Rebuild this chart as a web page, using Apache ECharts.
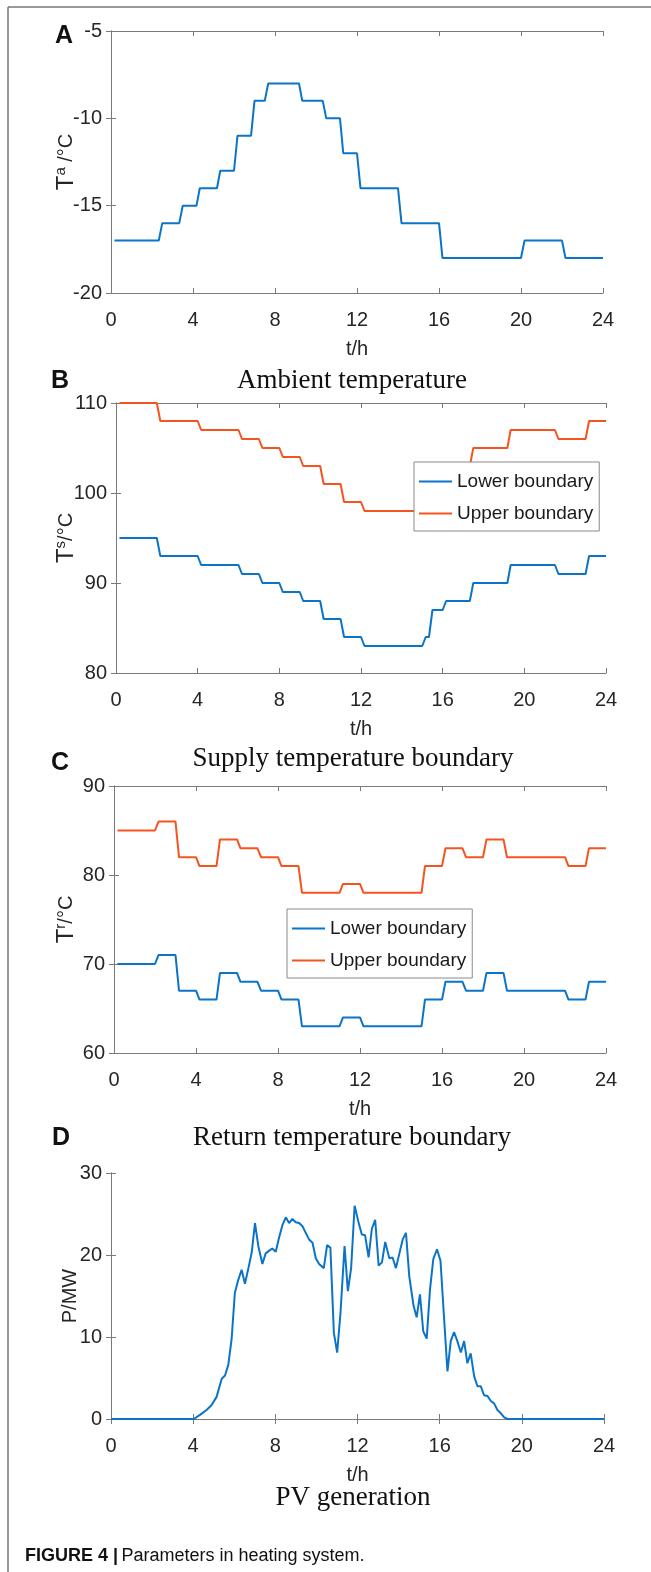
<!DOCTYPE html>
<html>
<head>
<meta charset="utf-8">
<script src="https://cdn.jsdelivr.net/npm/echarts@6/dist/echarts.min.js"></script>
<style>
  html, body { margin: 0; padding: 0; background: #fff; }
  #chart { width: 651px; height: 1572px; }
</style>
</head>
<body>
<div id="chart"></div>
<script>
// A: 环境温度 (plateau start / end in hours, value in °C)
var ambStart = [0.17, 2.5, 3.5, 4.33, 5.33, 6.17, 7.0, 7.67, 9.33, 10.5, 11.33, 12.17, 14.17, 16.17, 20.17, 22.17]
var ambEnd = [2.33, 3.33, 4.17, 5.17, 6.0, 6.83, 7.5, 9.17, 10.33, 11.17, 12.0, 14.0, 16.0, 20.0, 22.0, 24]
var ambVal = [-17, -16, -15, -14, -13, -11, -9, -8, -9, -10, -12, -14, -16, -18, -17, -18]

// B: 供水温度上下限
var supStart = [0.17, 2.17, 4.17, 6.17, 7.17, 8.17, 9.17, 10.17, 11.17, 12.17, 15.17, 15.5, 16.17, 17.5, 19.33, 21.67, 23.17]
var supEnd = [2, 4, 6, 7, 8, 9, 10, 11, 12, 15, 15.33, 16, 17.33, 19.17, 21.5, 23, 24]
var supLower = [95, 93, 92, 91, 90, 89, 88, 86, 84, 83, 84, 87, 88, 90, 92, 91, 93]
var supUpper = [110, 108, 107, 106, 105, 104, 103, 101, 99, 98, 99, 102, 103, 105, 107, 106, 108]

// C: 回水温度上下限
var retStart = [0.17, 2.17, 3.17, 4.17, 5.17, 6.17, 7.17, 8.17, 9.17, 11.17, 12.17, 15.17, 16.17, 17.17, 18.17, 19.17, 22.17, 23.17]
var retEnd = [2, 3, 4, 5, 6, 7, 8, 9, 11, 12, 15, 16, 17, 18, 19, 22, 23, 24]
var retLower = [70, 71, 67, 66, 69, 68, 67, 66, 63, 64, 63, 66, 68, 67, 69, 67, 66, 68]
var retUpper = [85, 86, 82, 81, 84, 83, 82, 81, 78, 79, 78, 81, 83, 82, 84, 82, 81, 83]

// D: 光伏出力
var pvTime = [0, 4.03, 4.33, 4.65, 4.90, 5.14, 5.39, 5.55, 5.71, 5.87,
  6.03, 6.20, 6.36, 6.52, 6.69, 6.85, 7.01, 7.17, 7.37, 7.53,
  7.69, 7.85, 8.02, 8.18, 8.34, 8.51, 8.67, 8.83, 8.99, 9.16,
  9.32, 9.48, 9.64, 9.81, 9.97, 10.13, 10.36, 10.52, 10.68, 10.85,
  11.01, 11.17, 11.37, 11.53, 11.69, 11.86, 12.05, 12.21, 12.37, 12.54,
  12.70, 12.86, 13.03, 13.19, 13.35, 13.55, 13.71, 13.87, 14.04, 14.20,
  14.36, 14.52, 14.73, 14.88, 15.04, 15.20, 15.37, 15.53, 15.69, 15.87,
  16.04, 16.20, 16.38, 16.54, 16.70, 16.86, 17.03, 17.19, 17.35, 17.51,
  17.68, 17.84, 18.00, 18.16, 18.33, 18.49, 18.65, 18.81, 18.98, 19.14,
  19.30, 24]
var pvPower = [0, 0, 0.5, 1.1, 1.7, 2.7, 4.9, 5.3, 6.6, 9.7,
  15.4, 17.0, 18.2, 16.5, 18.4, 20.3, 23.9, 21.1, 18.9, 20.2,
  20.5, 20.8, 20.4, 22.1, 23.6, 24.6, 23.9, 24.4, 24.0, 23.9,
  23.5, 22.7, 21.9, 21.5, 19.6, 18.9, 18.4, 21.2, 20.9, 10.5,
  8.1, 12.9, 21.1, 15.6, 18.4, 26.0, 24.0, 22.5, 22.4, 19.7,
  23.2, 24.3, 18.7, 19.1, 21.6, 19.6, 19.7, 18.4, 20.2, 21.9,
  22.7, 17.4, 13.8, 12.4, 15.2, 10.7, 9.8, 15.8, 19.5, 20.7,
  19.3, 12.9, 5.8, 9.5, 10.6, 9.5, 8.1, 9.5, 6.8, 8.0,
  5.2, 4.0, 4.0, 2.9, 2.8, 2.2, 1.9, 1.1, 0.7, 0.2,
  0, 0]

var BLUE = '#0b74c8'
var RED = '#f5541f'
var AXIS = '#7a7a7a'
var INK = '#262626'
var SANS = '"Liberation Sans", Arial, sans-serif'
var SERIF = '"Liberation Serif", "Times New Roman", serif'

function stepPoints(start, end, val) {
  var pts = []
  for (var i = 0; i < val.length; i++) {
    pts.push([start[i], val[i]])
    pts.push([end[i], val[i]])
  }
  return pts
}

function pairPoints(xs, ys) {
  return xs.map(function (x, i) { return [x, ys[i]] })
}

var grids = [
  { left: 111, top: 31, width: 492, height: 262 },
  { left: 116, top: 403, width: 490, height: 270 },
  { left: 114, top: 786, width: 492, height: 267 },
  { left: 111, top: 1173, width: 493, height: 246 }
]
var yRanges = [[-20, -5, 5], [80, 110, 10], [60, 90, 10], [0, 30, 10]]
var yNames = [
  '{t|T}{s|a}{u| /°C}',
  '{t|T}{s|s}{u|/°C}',
  '{t|T}{s|r}{u|/°C}',
  '{u|P/MW}'
]

var xAxes = []
var yAxes = []
grids.forEach(function (g, i) {
  var tick = { show: true, inside: true, length: 5, lineStyle: { color: AXIS } }
  var line = { show: true, lineStyle: { color: AXIS, width: 1 } }
  xAxes.push({
    type: 'value', gridIndex: i, position: 'bottom', min: 0, max: 24, interval: 4,
    name: 't/h', nameLocation: 'middle', nameGap: 46, nameMoveOverlap: false,
    nameTextStyle: { fontFamily: SANS, fontSize: 20, color: INK },
    axisLine: line, axisTick: tick, splitLine: { show: false },
    axisLabel: { margin: 17, fontFamily: SANS, fontSize: 20, color: INK }
  })
  xAxes.push({
    type: 'value', gridIndex: i, position: 'top', min: 0, max: 24, interval: 4,
    axisLine: line, axisTick: tick, splitLine: { show: false }, axisLabel: { show: false }
  })
  yAxes.push({
    type: 'value', gridIndex: i, position: 'left',
    min: yRanges[i][0], max: yRanges[i][1], interval: yRanges[i][2],
    name: yNames[i], nameLocation: 'middle', nameRotate: 90, nameGap: g.left - 80,
    nameMoveOverlap: false,
    nameTextStyle: {
      rich: {
        t: { fontFamily: SANS, fontSize: 24, color: INK },
        s: { fontFamily: SANS, fontSize: 15, color: INK, verticalAlign: 'top', padding: [0, 0, 12, 0] },
        u: { fontFamily: SANS, fontSize: 20, color: INK }
      }
    },
    axisLine: line, axisTick: tick, splitLine: { show: false },
    axisLabel: { margin: 9, fontFamily: SANS, fontSize: 20, color: INK }
  })
  yAxes.push({
    type: 'value', gridIndex: i, position: 'right',
    min: yRanges[i][0], max: yRanges[i][1], interval: yRanges[i][2],
    axisLine: line, axisTick: tick, splitLine: { show: false }, axisLabel: { show: false }
  })
})

function lineSeries(name, idx, data, color) {
  return {
    name: name, type: 'line', xAxisIndex: idx * 2, yAxisIndex: idx * 2,
    data: data, showSymbol: false, symbol: 'none', animation: false,
    lineStyle: { color: color, width: 2 }, itemStyle: { color: color }
  }
}

var legendBase = {
  orient: 'vertical', icon: 'rect', itemWidth: 33, itemHeight: 2, itemGap: 13,
  padding: [10, 6, 8, 5], backgroundColor: '#fff', borderColor: '#8a8a8a', borderWidth: 1,
  borderRadius: 0, textStyle: { fontFamily: SANS, fontSize: 19, color: '#1a1a1a' },
  data: ['Lower boundary', 'Upper boundary'], selectedMode: false
}

function textEl(str, x, y, font, align) {
  return {
    type: 'text', x: x, y: y,
    style: { text: str, font: font, fill: '#111', textAlign: align || 'center', textVerticalAlign: 'middle' }
  }
}

var chart = echarts.init(document.getElementById('chart'), null, { renderer: 'canvas' })
chart.setOption({
  backgroundColor: '#fff',
  animation: false,
  grid: grids,
  xAxis: xAxes,
  yAxis: yAxes,
  legend: [
    Object.assign({}, legendBase, { left: 414, top: 462 }),
    Object.assign({}, legendBase, { left: 287, top: 909 })
  ],
  series: [
    lineSeries('Ambient', 0, stepPoints(ambStart, ambEnd, ambVal), BLUE),
    lineSeries('Lower boundary', 1, stepPoints(supStart, supEnd, supLower), BLUE),
    lineSeries('Upper boundary', 1, stepPoints(supStart, supEnd, supUpper), RED),
    lineSeries('Lower boundary', 2, stepPoints(retStart, retEnd, retLower), BLUE),
    lineSeries('Upper boundary', 2, stepPoints(retStart, retEnd, retUpper), RED),
    lineSeries('PV', 3, pairPoints(pvTime, pvPower), BLUE)
  ],
  graphic: [
    { type: 'line', shape: { x1: 8, y1: 7, x2: 651, y2: 7 }, style: { stroke: '#777', lineWidth: 1.5 } },
    { type: 'line', shape: { x1: 8, y1: 7, x2: 8, y2: 1572 }, style: { stroke: '#777', lineWidth: 1.5 } },
    textEl('A', 64, 36, 'bold 25px ' + SANS),
    textEl('B', 60, 381, 'bold 25px ' + SANS),
    textEl('C', 60, 763, 'bold 25px ' + SANS),
    textEl('D', 61, 1138, 'bold 25px ' + SANS),
    textEl('Ambient temperature', 352, 381, '27px ' + SERIF),
    textEl('Supply temperature boundary', 353, 759, '27px ' + SERIF),
    textEl('Return temperature boundary', 352, 1138, '27px ' + SERIF),
    textEl('PV generation', 353, 1498, '27px ' + SERIF),
    {
      type: 'text', x: 25, y: 1556,
      style: {
        text: '{b|FIGURE 4 |} {n|Parameters in heating system.}',
        textVerticalAlign: 'middle',
        rich: {
          b: { font: 'bold 18px ' + SANS, fill: '#111' },
          n: { font: '18px ' + SANS, fill: '#111' }
        }
      }
    }
  ]
})
</script>
</body>
</html>
